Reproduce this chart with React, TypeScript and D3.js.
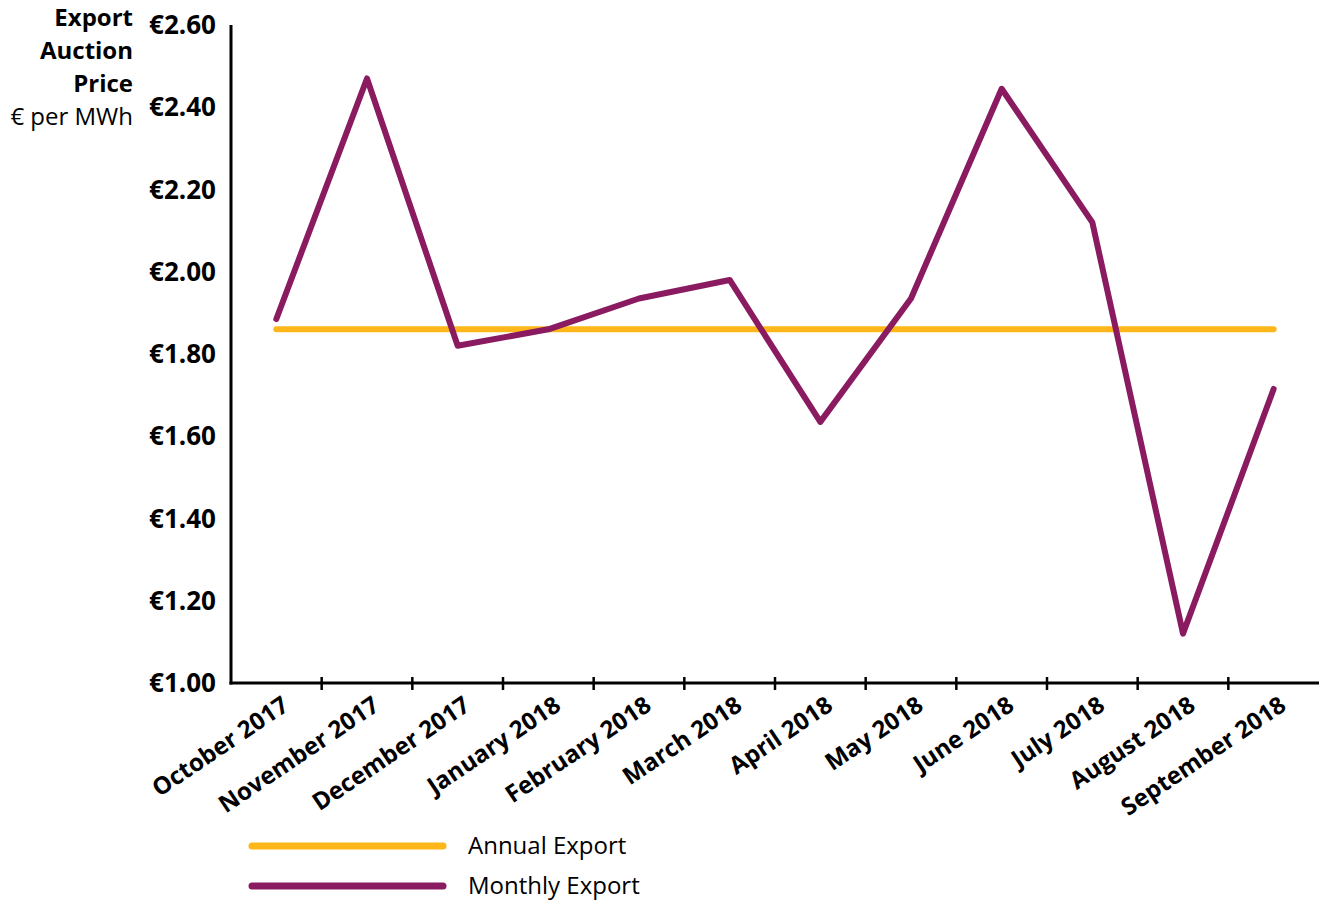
import React, { useEffect, useRef } from 'react';
import * as d3 from 'd3';

const months = [
  'October 2017', 'November 2017', 'December 2017', 'January 2018',
  'February 2018', 'March 2018', 'April 2018', 'May 2018',
  'June 2018', 'July 2018', 'August 2018', 'September 2018',
];
const monthlyExport = [1.885, 2.47, 1.82, 1.86, 1.935, 1.98, 1.635, 1.935, 2.445, 2.12, 1.12, 1.715];
const annualExport = 1.86;
const yTicks = [1.0, 1.2, 1.4, 1.6, 1.8, 2.0, 2.2, 2.4, 2.6];
const titleLines = ['Export', 'Auction', 'Price'];
const unitLabel = '€ per MWh';
const legendItems = [
  { label: 'Annual Export', color: '#fdb71a' },
  { label: 'Monthly Export', color: '#8a1b61' },
];

const FONT = '"Open Sans", Lato, sans-serif';

export default function App() {
  const ref = useRef<SVGSVGElement>(null);

  useEffect(() => {
    const svg = d3.select(ref.current);
    svg.selectAll('*').remove();

    const left = 231, right = 1319, top = 25, bottom = 683;

    const x = d3.scaleBand().domain(months).range([left, right]);
    const y = d3.scaleLinear().domain([1.0, 2.6]).range([bottom, top]);
    const cx = (m: string) => (x(m) as number) + x.bandwidth() / 2;

    // y axis title
    const title = svg.append('g').attr('font-family', FONT).attr('text-anchor', 'end');
    titleLines.forEach((t, i) => {
      title.append('text')
        .attr('x', 133).attr('y', 26 + i * 33)
        .attr('font-size', 24).attr('font-weight', 'bold')
        .text(t);
    });
    title.append('text')
      .attr('x', 133).attr('y', 125)
      .attr('font-size', 24)
      .text(unitLabel);

    // y tick labels
    svg.append('g').selectAll('text').data(yTicks).enter().append('text')
      .attr('x', 216).attr('y', d => y(d) + 9)
      .attr('text-anchor', 'end')
      .attr('font-family', FONT).attr('font-size', 26).attr('font-weight', 'bold')
      .text(d => '€' + d.toFixed(2));

    // axes lines
    svg.append('line')
      .attr('x1', left).attr('x2', left).attr('y1', top).attr('y2', bottom + 1.5)
      .attr('stroke', '#000').attr('stroke-width', 3);
    svg.append('line')
      .attr('x1', left - 1.5).attr('x2', right).attr('y1', bottom).attr('y2', bottom)
      .attr('stroke', '#000').attr('stroke-width', 3);

    // x ticks between months
    svg.append('g').selectAll('line').data(months.slice(1)).enter().append('line')
      .attr('x1', d => x(d) as number).attr('x2', d => x(d) as number)
      .attr('y1', bottom - 6).attr('y2', bottom + 7)
      .attr('stroke', '#000').attr('stroke-width', 2.5);

    // x labels
    svg.append('g').selectAll('text').data(months).enter().append('text')
      .attr('transform', d => `translate(${cx(d) + 14},${bottom + 26}) rotate(-34)`)
      .attr('text-anchor', 'end')
      .attr('font-family', FONT).attr('font-size', 24).attr('font-weight', 'bold')
      .text(d => d);

    // annual line
    svg.append('line')
      .attr('x1', cx(months[0])).attr('x2', cx(months[months.length - 1]))
      .attr('y1', y(annualExport)).attr('y2', y(annualExport))
      .attr('stroke', legendItems[0].color).attr('stroke-width', 6)
      .attr('stroke-linecap', 'round');

    // monthly line
    const line = d3.line<number>()
      .x((_, i) => cx(months[i]))
      .y(d => y(d));
    svg.append('path')
      .datum(monthlyExport)
      .attr('d', line)
      .attr('fill', 'none')
      .attr('stroke', legendItems[1].color).attr('stroke-width', 6)
      .attr('stroke-linecap', 'round').attr('stroke-linejoin', 'round');

    // legend
    const lg = svg.append('g');
    legendItems.forEach((it, i) => {
      const ly = 846 + i * 40;
      lg.append('line')
        .attr('x1', 252).attr('x2', 443).attr('y1', ly).attr('y2', ly)
        .attr('stroke', it.color).attr('stroke-width', 7).attr('stroke-linecap', 'round');
      lg.append('text')
        .attr('x', 468).attr('y', ly + 8)
        .attr('font-family', FONT).attr('font-size', 24)
        .text(it.label);
    });
  }, []);

  return (
    <svg ref={ref} width={1329} height={904} style={{ position: 'absolute', left: 0, top: 0 }} />
  );
}
